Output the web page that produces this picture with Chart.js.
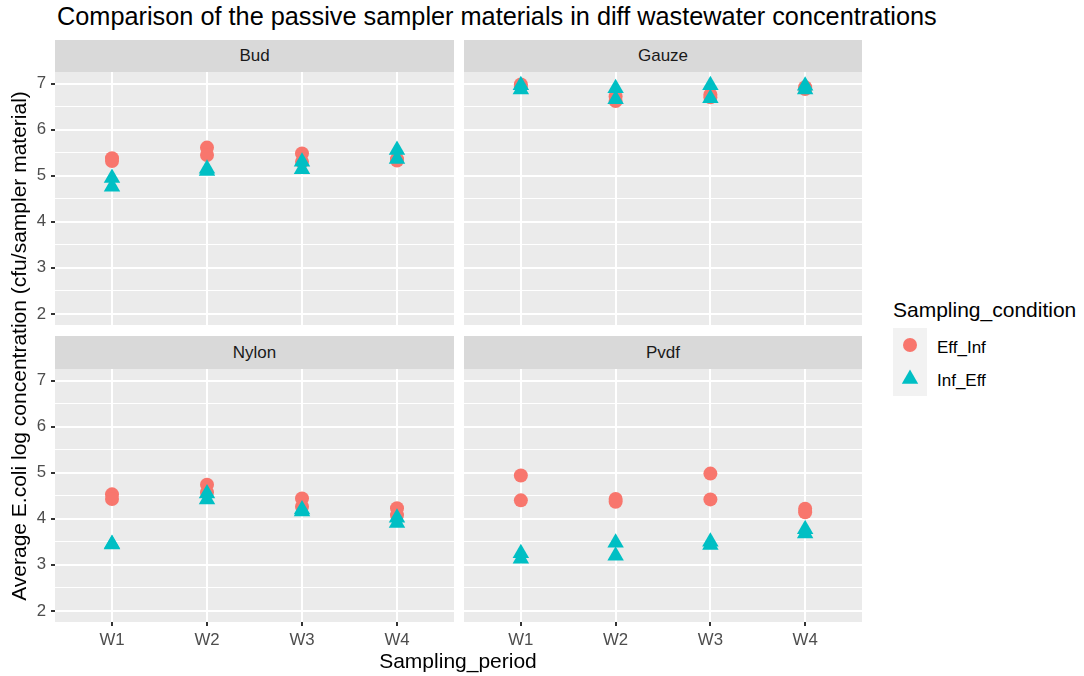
<!DOCTYPE html>
<html>
<head>
<meta charset="utf-8">
<script src="https://cdn.jsdelivr.net/npm/chart.js@4/dist/chart.umd.min.js"></script>
<style>
  body { margin: 0; background: #fff; width: 1084px; height: 676px; position: relative; overflow: hidden;
         font-family: "Liberation Sans", Arial, sans-serif; }
  .abs { position: absolute; }
  canvas.panel { position: absolute; }
  .strip { position: absolute; background: #d9d9d9; color: #1a1a1a; font-size: 17px;
           display: flex; align-items: center; justify-content: center; }
</style>
</head>
<body>
<div class="abs" style="left:57px; top:4px; font-size:25.3px; line-height:25px; color:#000; white-space:nowrap;">Comparison of the passive sampler materials in diff wastewater concentrations</div>

<div class="strip" style="left:55px; top:40px; width:399px; height:32px;">Bud</div>
<div class="strip" style="left:464px; top:40px; width:398px; height:32px;">Gauze</div>
<div class="strip" style="left:55px; top:336px; width:399px; height:33px;">Nylon</div>
<div class="strip" style="left:464px; top:336px; width:398px; height:33px;">Pvdf</div>

<canvas class="panel" id="pBud" style="left:0px; top:72px;" width="454" height="253"></canvas>
<canvas class="panel" id="pGauze" style="left:464px; top:72px;" width="398" height="253"></canvas>
<canvas class="panel" id="pNylon" style="left:0px; top:369px;" width="454" height="282"></canvas>
<canvas class="panel" id="pPvdf" style="left:464px; top:369px;" width="398" height="282"></canvas>

<div class="abs" style="left:308px; top:650px; width:300px; text-align:center; font-size:21px; line-height:21px; color:#000;">Sampling_period</div>
<div class="abs" style="left:-281px; top:334px; width:600px; height:24px; text-align:center; font-size:21px; line-height:24px; color:#000; transform:rotate(-90deg);">Average E.coli log concentration (cfu/sampler material)</div>

<div class="abs" style="left:893px; top:299px; font-size:21px; line-height:21px; color:#000; white-space:nowrap;">Sampling_condition</div>
<svg class="abs" style="left:893px; top:328px;" width="34" height="68">
  <rect x="0" y="0" width="34" height="68" fill="#f2f2f2"></rect>
  <circle cx="17" cy="17" r="7" fill="#F8766D"></circle>
  <polygon points="17,41.5 25.2,55.7 8.8,55.7" fill="#00BFC4"></polygon>
</svg>
<div class="abs" style="left:937px; top:339px; font-size:17px; line-height:17px; color:#000;">Eff_Inf</div>
<div class="abs" style="left:937px; top:372px; font-size:17px; line-height:17px; color:#000;">Inf_Eff</div>

<script>
// categories
var periods = ['W1', 'W2', 'W3', 'W4'];
var conditions = ['Eff_Inf', 'Inf_Eff'];
// y axis: limits and tick positions (majors labelled, halves are minor grid)
var yMin = 1.76, yMax = 7.25;
var yTicks = [2, 2.5, 3, 3.5, 4, 4.5, 5, 5.5, 6, 6.5, 7];

// values per period (two replicates each)
var budEffInf   = [[5.38, 5.32], [5.61, 5.45], [5.48, 5.30], [5.33, 5.36]];
var budInfEff   = [[4.95, 4.76], [5.15, 5.10], [5.30, 5.14], [5.56, 5.36]];
var gauzeEffInf = [[6.98, 6.93], [6.62, 6.72], [6.76, 6.70], [6.92, 6.88]];
var gauzeInfEff = [[6.96, 6.87], [6.90, 6.66], [6.96, 6.68], [6.95, 6.87]];
var nylonEffInf = [[4.53, 4.43], [4.74, 4.57], [4.44, 4.26], [4.23, 4.08]];
var nylonInfEff = [[3.45, 3.44], [4.55, 4.42], [4.20, 4.16], [4.02, 3.91]];
var pvdfEffInf  = [[4.94, 4.40], [4.43, 4.37], [4.98, 4.42], [4.22, 4.14]];
var pvdfInfEff  = [[3.25, 3.13], [3.48, 3.20], [3.50, 3.43], [3.77, 3.68]];

var FONT = '"Liberation Sans", Arial, sans-serif';
var RED = '#F8766D', TEAL = '#00BFC4';

function toPoints(vals) {
    var pts = [];
    vals.forEach(function (reps, i) {
        reps.forEach(function (v) { pts.push({ x: i + 1, y: v }); });
    });
    return pts;
}
function isMajor(v) { return Math.abs(v - Math.round(v)) < 1e-9; }
// no extra room for half tick labels: the panel must fill its box exactly
function noPad(s) { s.paddingTop = 0; s.paddingBottom = 0; s.paddingLeft = 0; s.paddingRight = 0; }

// grey panel background, like ggplot's theme_gray
var panelBg = {
    id: 'panelBg',
    beforeDraw: function (chart) {
        var a = chart.chartArea, ctx = chart.ctx;
        ctx.save();
        ctx.fillStyle = '#ebebeb';
        ctx.fillRect(a.left, a.top, a.right - a.left, a.bottom - a.top);
        ctx.restore();
    }
};

function panel(id, effVals, infVals, showX, showY) {
    return new Chart(document.getElementById(id), {
        type: 'scatter',
        data: {
            datasets: [
                { label: conditions[0], data: toPoints(effVals), order: 1,
                  pointStyle: 'circle', pointRadius: 7, backgroundColor: RED, borderWidth: 0 },
                { label: conditions[1], data: toPoints(infVals), order: 0,
                  pointStyle: 'triangle', pointRadius: 9.5, backgroundColor: TEAL, borderWidth: 0 }
            ]
        },
        options: {
            responsive: false, animation: false, events: [],
            layout: { padding: 0, autoPadding: false },
            plugins: { legend: { display: false }, tooltip: { enabled: false } },
            elements: { point: { hoverRadius: 0 } },
            scales: {
                x: {
                    type: 'linear', min: 0.4, max: 4.6,
                    afterBuildTicks: function (s) { s.ticks = periods.map(function (_, i) { return { value: i + 1 }; }); },
                    afterFit: function (s) { s.height = showX ? 29 : 0; noPad(s); },
                    border: { display: false },
                    grid: { color: '#ffffff', lineWidth: 2, drawTicks: showX, tickLength: 4,
                            tickColor: '#333333', tickWidth: 2 },
                    ticks: { display: showX, autoSkip: false, maxRotation: 0, padding: 4, color: '#4d4d4d',
                             font: { family: FONT, size: 16.8 },
                             callback: function (v) { return periods[Math.round(v) - 1] || ''; } }
                },
                y: {
                    type: 'linear', min: yMin, max: yMax,
                    afterBuildTicks: function (s) { s.ticks = yTicks.map(function (v) { return { value: v }; }); },
                    afterFit: function (s) { s.width = showY ? 55 : 0; noPad(s); },
                    border: { display: false },
                    grid: {
                        color: '#ffffff',
                        lineWidth: function (c) { return isMajor(c.tick.value) ? 2 : 1; },
                        drawTicks: showY, tickLength: 4,
                        tickColor: function (c) { return isMajor(c.tick.value) ? '#333333' : 'rgba(0,0,0,0)'; },
                        tickWidth: 2
                    },
                    ticks: { display: showY, autoSkip: false, padding: 5, color: '#4d4d4d',
                             font: { family: FONT, size: 16.8 },
                             callback: function (v) { return isMajor(v) ? String(Math.round(v)) : ''; } }
                }
            }
        },
        plugins: [panelBg]
    });
}

panel('pBud', budEffInf, budInfEff, false, true);
panel('pGauze', gauzeEffInf, gauzeInfEff, false, false);
panel('pNylon', nylonEffInf, nylonInfEff, true, true);
panel('pPvdf', pvdfEffInf, pvdfInfEff, true, false);
</script>
</body>
</html>
